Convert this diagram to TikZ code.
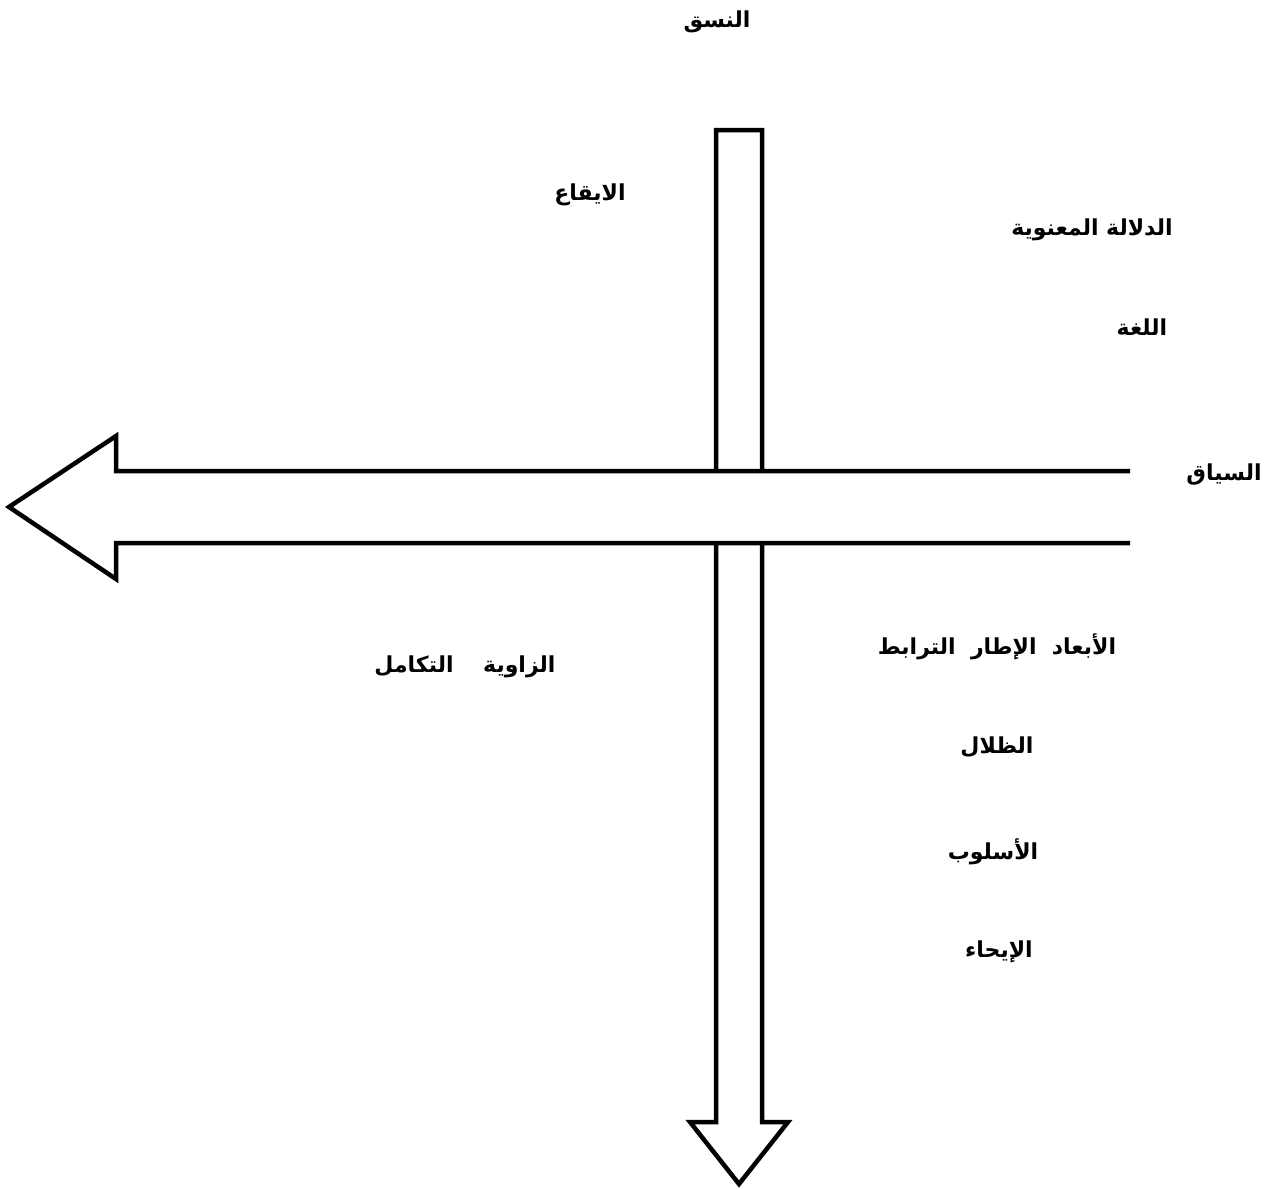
\documentclass[tikz,border=0pt]{standalone}
\usepackage{fontspec}
\newfontfamily\arabicfont[Script=Arabic]{DejaVu Sans}
\TeXXeTstate=1
\begin{document}
\begin{tikzpicture}[x=1pt,y=-1pt,
  lbl/.style={font=\arabicfont\bfseries\fontsize{22}{26}\selectfont, inner sep=0pt, anchor=center},
  arrowshape/.style={draw=black, fill=white, line width=4.5pt, line join=miter}]
\useasboundingbox (0,0) rectangle (1275,1189);
% vertical arrow
\coordinate (vTL) at (716,130);
\coordinate (vTR) at (762,130);
\coordinate (vTip) at (739,1184);
\path[arrowshape] (vTL) -- (vTR) -- (762,1122) -- (788,1122) -- (vTip) -- (690,1122) -- (716,1122) -- cycle;
% horizontal arrow (open at right end)
\coordinate (hTip) at (9,507);
\path[arrowshape] (1130,471) -- (116,471) -- (116,436) -- (hTip) -- (116,579) -- (116,543) -- (1130,543);
% labels
\node[lbl] (nasaq) at (717,22) {\beginR النسق\endR};
\node[lbl] (iqa) at (590,195) {\beginR الايقاع\endR};
\node[lbl] (dalala) at (1092,230) {\beginR الدلالة المعنوية\endR};
\node[lbl] (lugha) at (1142,327) {\beginR اللغة\endR};
\node[lbl] (siyaq) at (1224,474) {\beginR السياق\endR};
\node[lbl] (zawiya) at (465,667) {\beginR الزاوية\quad\ التكامل\endR};
\node[lbl] (abaad) at (997,647) {\beginR الأبعاد\ \ الإطار\ \ الترابط\endR};
\node[lbl] (zilal) at (997,747) {\beginR الظلال\endR};
\node[lbl] (uslub) at (993,852) {\beginR الأسلوب\endR};
\node[lbl] (ihaa) at (999,952) {\beginR الإيحاء\endR};
\end{tikzpicture}
\end{document}
